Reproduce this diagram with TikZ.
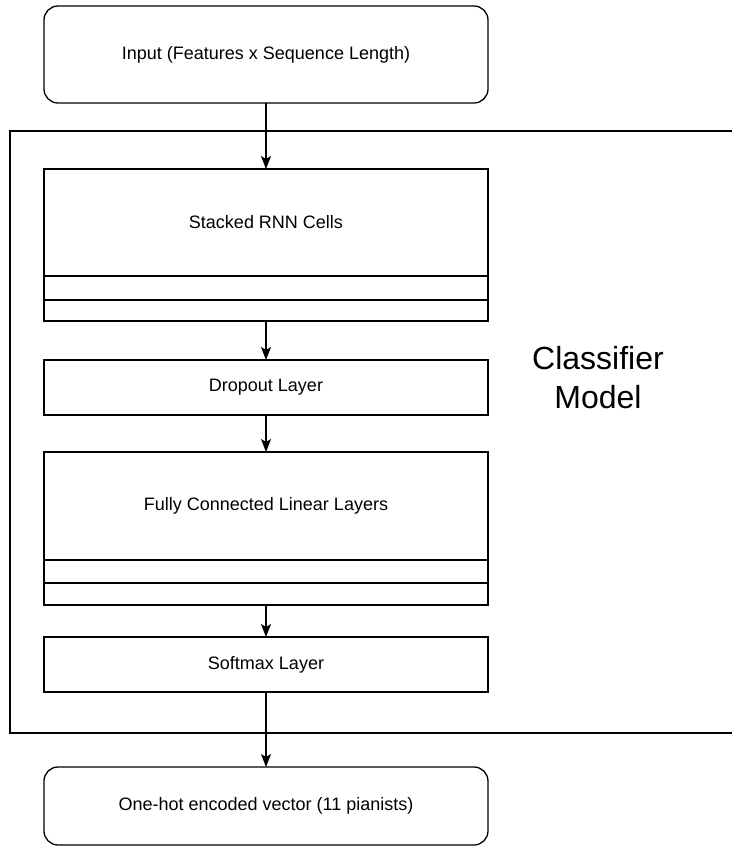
\documentclass[tikz,border=0pt]{standalone}
\usepackage{fontspec}
\setmainfont{Liberation Sans}
\usetikzlibrary{arrows.meta}
\begin{document}
\begin{tikzpicture}[x=1pt,y=-1pt,
  every node/.style={inner sep=0pt,outer sep=0pt},
  box/.style={draw,line width=1.3pt,minimum width=444pt,font=\fontsize{18}{21}\selectfont},
  rbox/.style={box,rounded corners=14pt},
  arr/.style={line width=1.3pt,-{Stealth[length=13pt,width=10pt,inset=3pt]}},
  frame/.style={line width=1.5pt}]
\useasboundingbox (0,0) rectangle (732,847);
% outer classifier frame (open to the right)
\draw[frame] (732,131) -- (10,131) -- (10,733) -- (732,733);
\node[font=\fontsize{32}{39}\selectfont,align=center] (cm) at (598,378) {Classifier\\Model};
% boxes
\node[rbox,minimum height=97pt] (in) at (266,54.5) {Input (Features x Sequence Length)};
\node[box,minimum height=107pt] (rnn) at (266,222.5) {Stacked RNN Cells};
\node[box,minimum height=24pt] (rnn2) at (266,288) {};
\node[box,minimum height=21pt] (rnn3) at (266,310.5) {};
\node[box,minimum height=55pt] (drop) at (266,387.5) {Dropout Layer};
\node[box,minimum height=108pt] (fc) at (266,506) {Fully Connected Linear Layers};
\node[box,minimum height=23pt] (fc2) at (266,571.5) {};
\node[box,minimum height=22pt] (fc3) at (266,594) {};
\node[box,minimum height=55pt] (soft) at (266,664.5) {Softmax Layer};
\node[rbox,minimum height=78pt] (out) at (266,806) {One-hot encoded vector (11 pianists)};
% connectors
\draw[arr] (in) -- (rnn);
\draw[arr] (rnn3) -- (drop);
\draw[arr] (drop) -- (fc);
\draw[arr] (fc3) -- (soft);
\draw[arr] (soft) -- (out);
\end{tikzpicture}
\end{document}
